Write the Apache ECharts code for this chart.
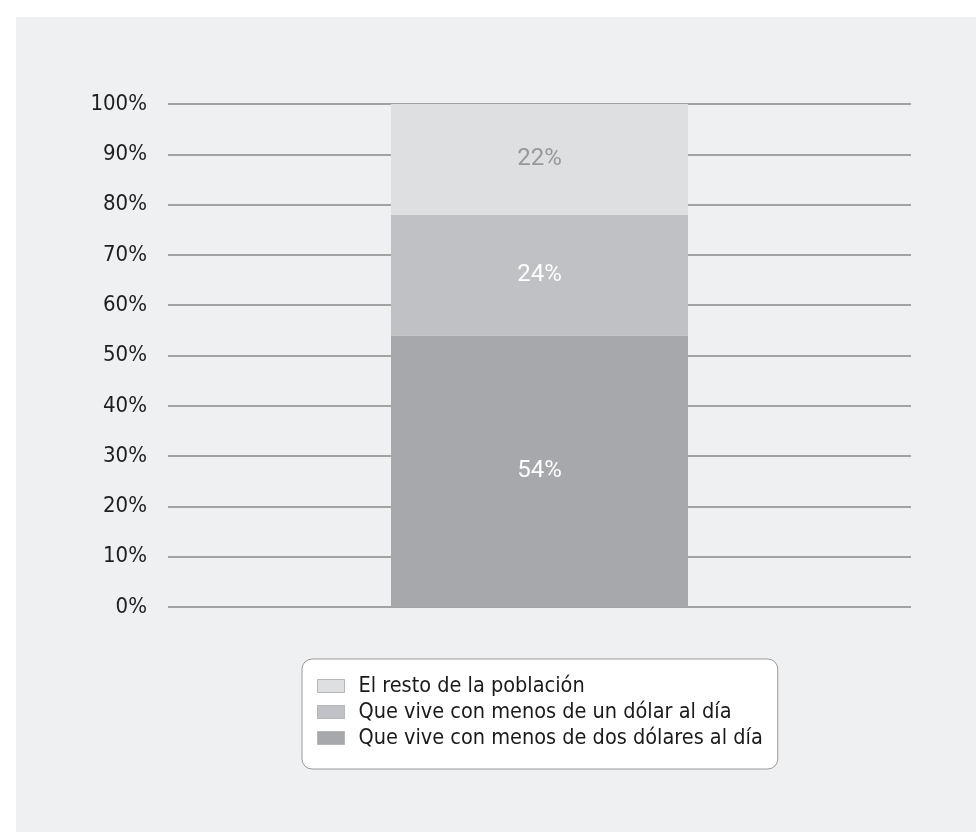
<!DOCTYPE html>
<html>
<head>
<meta charset="utf-8">
<script src="https://cdn.jsdelivr.net/npm/echarts@6/dist/echarts.min.js"></script>
<style>
  html, body { margin: 0; padding: 0; background: #ffffff; }
  #chart { width: 977px; height: 832px; }
</style>
</head>
<body>
<div id="chart"></div>
<script>
"use strict";

var categories = ['Población'];
var seriesNames = [
	'Que vive con menos de dos dólares al día',
	'Que vive con menos de un dólar al día',
	'El resto de la población'
];
var dosDolares = [54];
var unDolar = [24];
var resto = [22];
var legendOrder = [seriesNames[2], seriesNames[1], seriesNames[0]];

var COLORS = ['#a7a8ab', '#c0c1c4', '#dedfe1'];
var LABEL_COLORS = ['#ffffff', '#ffffff', '#97989b'];
var AXIS_FONT = '"DejaVu Sans Condensed", "Liberation Sans Narrow", sans-serif';

var chart = echarts.init(document.getElementById('chart'), null, { renderer: 'canvas' });

function makeSeries(index, data) {
	return {
		name: seriesNames[index],
		type: 'bar',
		stack: 'total',
		barWidth: 297,
		data: data,
		itemStyle: { color: COLORS[index] },
		label: {
			show: true,
			position: 'inside',
			formatter: '{c}%',
			color: LABEL_COLORS[index],
			fontFamily: 'Roboto, sans-serif',
			fontSize: 24
		},
		emphasis: { disabled: true }
	};
}

chart.setOption({
	backgroundColor: '#ffffff',
	animation: false,
	graphic: [{
		type: 'rect',
		z: -10,
		shape: { x: 16, y: 17, width: 960, height: 815 },
		style: { fill: '#eff0f2' }
	}],
	grid: {
		left: 168,
		right: 66,
		top: 104,
		bottom: 225
	},
	legend: {
		orient: 'vertical',
		left: 302,
		top: 659,
		padding: [16, 15, 20, 15],
		backgroundColor: '#ffffff',
		borderColor: '#9a9a9a',
		borderWidth: 1,
		borderRadius: 10,
		icon: 'rect',
		itemWidth: 27,
		itemHeight: 13,
		itemGap: 4,
		selectedMode: false,
		data: legendOrder.map(function(name) {
			return { name: name, itemStyle: { borderColor: '#b5b6b8', borderWidth: 1 } };
		}),
		textStyle: {
			fontFamily: AXIS_FONT,
			fontSize: 21.5,
			lineHeight: 22,
			color: '#1a1a1a',
			padding: [0, 0, 0, 9]
		}
	},
	xAxis: {
		type: 'category',
		data: categories,
		axisLine: { show: false },
		axisTick: { show: false },
		axisLabel: { show: false }
	},
	yAxis: {
		type: 'value',
		min: 0,
		max: 100,
		interval: 10,
		axisLine: { show: false },
		axisTick: { show: false },
		axisLabel: {
			formatter: '{value}%',
			margin: 21,
			fontFamily: AXIS_FONT,
			fontSize: 22,
			color: '#1e1e1e'
		},
		splitLine: {
			lineStyle: { color: '#a3a3a3', width: 2 }
		}
	},
	series: [
		makeSeries(0, dosDolares),
		makeSeries(1, unDolar),
		makeSeries(2, resto)
	]
});
</script>
</body>
</html>
